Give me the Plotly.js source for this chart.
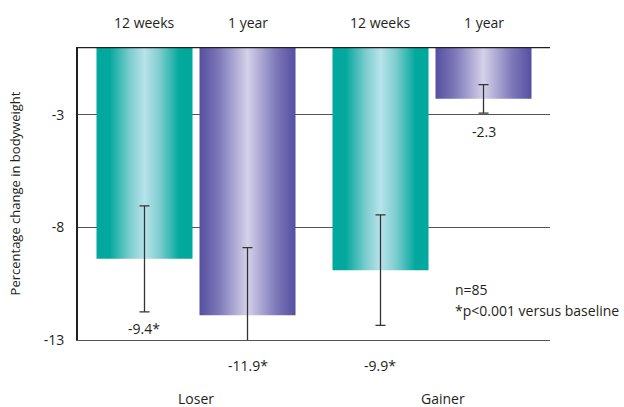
<!DOCTYPE html>
<html>
<head>
<meta charset="utf-8">
<script src="https://cdn.plot.ly/plotly-3.0.1.min.js"></script>
<style>
  html, body { margin: 0; padding: 0; background: #fff; }
  #chart { width: 624px; height: 407px; }
</style>
</head>
<body>
<div id="chart"></div>
<script>
// ---- data ----
const categories = ['Loser', 'Gainer'];
const seriesNames = ['12 weeks', '1 year'];
const weeks12 = [-9.4, -9.9];
const year1 = [-11.9, -2.3];
const weeks12ErrUp = [2.35, 2.45];
const weeks12ErrDown = [2.35, 2.45];
const year1ErrUp = [3.0, 0.63];
const year1ErrDown = [1.15, 0.63];
const weeks12Labels = ['-9.4*', '-9.9*'];
const year1Labels = ['-11.9*', '-2.3'];
const yTicks = [-3, -8, -13];
const yTitle = 'Percentage change in bodyweight';
const noteLines = ['n=85', '*p<0.001 versus baseline'];

// ---- styling ----
const FONT = '"Open Sans", sans-serif';
const TXT = '#231f20';
const tealBase = '#00a99d';
const purpleBase = '#5a55a5';
const tealStops = [[0, '#00a89d'], [0.14, '#04a99e'], [0.34, '#79cbcd'], [0.5, '#b8e3ea'], [0.66, '#7dcdcf'], [0.86, '#04a99e'], [1, '#00a89d']];
const purpleStops = [[0, '#554fa1'], [0.2, '#7d78b8'], [0.5, '#d4d1ea'], [0.8, '#7d78b8'], [1, '#554fa1']];

const errStyle = { type: 'data', symmetric: false, color: '#333', thickness: 1.3, width: 5 };

const traces = [
  {
    type: 'bar', name: seriesNames[0], x: categories, y: weeks12,
    marker: { color: tealBase, line: { width: 0 } },
    error_y: Object.assign({}, errStyle, { array: weeks12ErrUp, arrayminus: weeks12ErrDown }),
    cliponaxis: false, hoverinfo: 'skip'
  },
  {
    type: 'bar', name: seriesNames[1], x: categories, y: year1,
    marker: { color: purpleBase, line: { width: 0 } },
    error_y: Object.assign({}, errStyle, { array: year1ErrUp, arrayminus: year1ErrDown }),
    cliponaxis: false, hoverinfo: 'skip'
  }
];

const bargap = 0.127;
const slot = (1 - bargap) / 2;        // width of each series slot in category units
const off = slot / 2;                 // offset of a bar centre from its category centre

const annotations = [];
const txtFont = { family: FONT, size: 14, color: TXT };
categories.forEach((c, i) => {
  // series names above each bar
  annotations.push({ xref: 'x', yref: 'paper', x: i - off, y: 1.082, text: seriesNames[0], showarrow: false, xanchor: 'center', yanchor: 'middle', font: txtFont });
  annotations.push({ xref: 'x', yref: 'paper', x: i + off, y: 1.082, text: seriesNames[1], showarrow: false, xanchor: 'center', yanchor: 'middle', font: txtFont });
  // category labels
  annotations.push({ xref: 'x', yref: 'paper', x: i, y: -0.1983, xshift: i === 1 ? 11 : 0, text: c, showarrow: false, xanchor: 'center', yanchor: 'middle', borderpad: 0, font: txtFont });
});
// value labels
annotations.push({ xref: 'x', yref: 'y', x: 0 - off, y: -12.49, text: weeks12Labels[0], showarrow: false, yanchor: 'middle', font: txtFont });
annotations.push({ xref: 'x', yref: 'paper', x: 1 - off, y: -0.0855, text: weeks12Labels[1], showarrow: false, yanchor: 'middle', font: txtFont });
annotations.push({ xref: 'x', yref: 'paper', x: 0 + off, y: -0.0855, text: year1Labels[0], showarrow: false, yanchor: 'middle', font: txtFont });
annotations.push({ xref: 'x', yref: 'y', x: 1 + off, y: -3.75, text: year1Labels[1], showarrow: false, yanchor: 'middle', font: txtFont });
// note
annotations.push({ xref: 'paper', yref: 'paper', x: 0.7945, y: 0.171, text: noteLines[0], showarrow: false, xanchor: 'left', yanchor: 'middle', font: txtFont });
annotations.push({ xref: 'paper', yref: 'paper', x: 0.7945, y: 0.100, text: noteLines[1], showarrow: false, xanchor: 'left', yanchor: 'middle', font: txtFont });

const layout = {
  width: 624, height: 407,
  margin: { l: 78, r: 74, t: 47, b: 67, pad: 0 },
  paper_bgcolor: '#fff', plot_bgcolor: '#fff',
  showlegend: false,
  barmode: 'group', bargap: bargap, bargroupgap: 0.068,
  font: { family: FONT, size: 14, color: TXT },
  xaxis: {
    type: 'category', range: [-0.5, 1.5], showticklabels: false,
    showgrid: false, zeroline: false, showline: true, linecolor: '#555', linewidth: 1,
    ticks: '', fixedrange: true
  },
  yaxis: {
    range: [-13, 0], tickvals: yTicks, ticktext: yTicks.map(String),
    showgrid: true, gridcolor: '#555', gridwidth: 1,
    zeroline: false, showline: true, linecolor: '#231f20', linewidth: 2,
    ticks: 'outside', ticklen: 9, tickcolor: 'rgba(0,0,0,0)',
    tickfont: { family: FONT, size: 14, color: TXT },
    title: { text: yTitle, font: { family: FONT, size: 13, color: TXT }, standoff: 20 },
    automargin: false, fixedrange: true
  },
  shapes: [
    { type: 'line', xref: 'paper', yref: 'y', x0: 0, x1: 1, y0: 0, y1: 0, line: { color: '#231f20', width: 2.5 } }
  ],
  annotations: annotations
};

const gd = document.getElementById('chart');
Plotly.newPlot(gd, traces, layout, { staticPlot: true, displayModeBar: false }).then(function () {
  const ns = 'http://www.w3.org/2000/svg';
  const svg = gd.querySelector('svg.main-svg');
  let defs = svg.querySelector('defs');
  if (!defs) { defs = document.createElementNS(ns, 'defs'); svg.insertBefore(defs, svg.firstChild); }
  function makeGrad(id, stops) {
    const g = document.createElementNS(ns, 'linearGradient');
    g.setAttribute('id', id);
    g.setAttribute('x1', '0'); g.setAttribute('y1', '0');
    g.setAttribute('x2', '1'); g.setAttribute('y2', '0');
    stops.forEach(function (s) {
      const st = document.createElementNS(ns, 'stop');
      st.setAttribute('offset', s[0]);
      st.setAttribute('stop-color', s[1]);
      g.appendChild(st);
    });
    defs.appendChild(g);
  }
  makeGrad('gradTeal', tealStops);
  makeGrad('gradPurple', purpleStops);
  const ids = ['gradTeal', 'gradPurple'];
  gd.querySelectorAll('.barlayer .trace').forEach(function (t, i) {
    t.querySelectorAll('.point path').forEach(function (p) { p.style.fill = 'url(#' + ids[i] + ')'; });
  });
});
</script>
</body>
</html>
